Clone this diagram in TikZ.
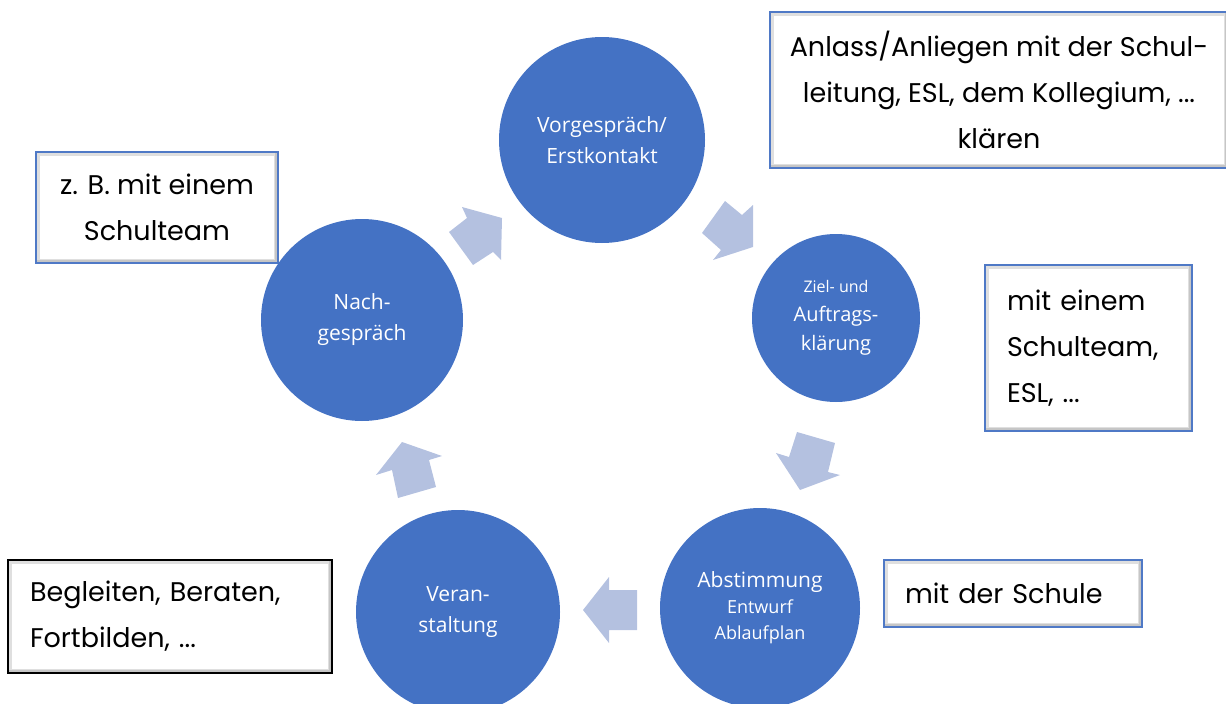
\documentclass[tikz,border=0pt]{standalone}
\usepackage{fontspec}
\setmainfont{Open Sans}
\newfontfamily\boxfont{Poppins}

\definecolor{kreisblau}{HTML}{4472C4}
\definecolor{pfeilblau}{HTML}{B4C1E0}
\definecolor{rahmenblau}{HTML}{4F79C6}

\tikzset{
  kreis/.style={circle, fill=kreisblau, text=white, align=center, inner sep=0pt, font=\fontsize{21}{31}\selectfont},
  kasten/.style={draw=rahmenblau, line width=2pt, fill=white, inner sep=0pt, font=\boxfont\fontsize{27}{46}\selectfont,
    path picture={
      \draw[gray!25, line width=8pt] (path picture bounding box.south west) rectangle (path picture bounding box.north east);
      \draw[gray!45, line width=6pt] (path picture bounding box.south west) -- (path picture bounding box.south east) -- (path picture bounding box.north east);}},
  pfeil/.style={fill=pfeilblau}
}

\begin{document}
\begin{tikzpicture}[x=1pt, y=-1pt]
    \useasboundingbox (0,0) rectangle (1226,704);

    \node[kasten, minimum width=458pt, minimum height=156pt, align=center] (BV) at (999,90) {Anlass/Anliegen mit der Schul-\\leitung, ESL, dem Kollegium, ...\\klären};
    \node[kasten, minimum width=242pt, minimum height=111pt, align=center] (BN) at (157,207.5) {z. B. mit einem\\Schulteam};
    \node[kasten, minimum width=207pt, minimum height=166pt, text width=163pt, inner xsep=22pt, align=left] (BZ) at (1088.5,348) {mit einem\\Schulteam,\\ESL, ...};
    \node[kasten, minimum width=258pt, minimum height=67pt, text width=216pt, inner xsep=21pt, align=left] (BA) at (1013,593.5) {mit der Schule};
    \node[kasten, draw=black, minimum width=324pt, minimum height=113pt, text width=280pt, inner xsep=22pt, align=left] (BT) at (170,616.5) {Begleiten, Beraten,\\Fortbilden, ...};

    \node[kreis, minimum size=206pt] (V) at (602,140) {Vorgespräch/\\Erstkontakt};
    \node[kreis, minimum size=168pt, font=\fontsize{20}{29}\selectfont] (Z) at (836,318) {{\fontsize{16}{22}\selectfont Ziel- und}\\Auftrags-\\klärung};
    \node[kreis, minimum size=200pt, font=\fontsize{18}{26}\selectfont] (A) at (760,608) {{\fontsize{21}{28}\selectfont Abstimmung}\\Entwurf\\Ablaufplan};
    \node[kreis, minimum size=204pt] (T) at (458,612) {Veran-\\staltung};
    \node[kreis, minimum size=202pt] (N) at (362,320) {Nach-\\gespräch};

    \fill[pfeil] (462,207) -- (467,218) -- (449,232) -- (473,265) -- (493,252) -- (501,260) -- (502,218) -- cycle;
    \fill[pfeil] (725,201) -- (742,215) -- (753,205) -- (753,247) -- (713,260) -- (721,250) -- (702,233) -- cycle;
    \fill[pfeil] (797,432) -- (835,443) -- (828,472) -- (840,475) -- (800,490) -- (776,453) -- (789,457) -- cycle;
    \fill[pfeil] (583,610) -- (609,577) -- (609,590) -- (637,590) -- (637,630) -- (609,630) -- (609,643) -- cycle;
    \fill[pfeil] (402,442) -- (442,456) -- (429,460) -- (436,487) -- (398,498) -- (392,470) -- (376,475) -- cycle;

\end{tikzpicture}
\end{document}
